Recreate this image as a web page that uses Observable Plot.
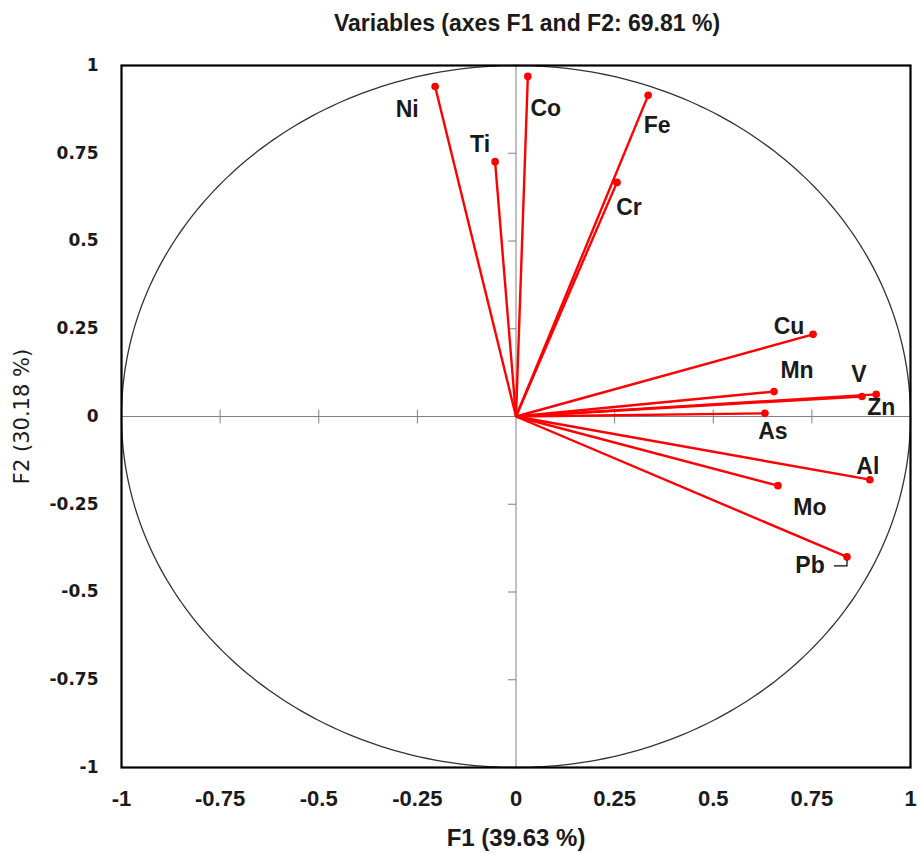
<!DOCTYPE html>
<html><head><meta charset="utf-8">
<script src="https://cdn.jsdelivr.net/npm/d3@7"></script>
<script src="https://cdn.jsdelivr.net/npm/@observablehq/plot@0.6"></script>
<style>body{margin:0;background:#fff}</style>
</head><body><div id="chart"></div>
<script>
// ---- data ----
const variables = ["Ni","Co","Ti","Fe","Cr","Cu","Mn","V","Zn","As","Al","Mo","Pb"];
const f1 = [-0.205, 0.030, -0.053, 0.335, 0.256, 0.753, 0.654, 0.877, 0.913, 0.631, 0.897, 0.664, 0.839];
const f2 = [0.940, 0.969, 0.726, 0.915, 0.667, 0.234, 0.071, 0.057, 0.063, 0.009, -0.180, -0.197, -0.400];
const tickValues = [-1, -0.75, -0.5, -0.25, 0, 0.25, 0.5, 0.75, 1];
const innerTicks = [-0.75, -0.5, -0.25, 0.25, 0.5, 0.75];
const titleText = "Variables (axes F1 and F2: 69.81 %)";
const xLabel = "F1 (39.63 %)";
const yLabel = "F2 (30.18 %)";

// ---- layout (label offsets in px) ----
const labelOffsets = {
  Ni: [-28, 23], Co: [18, 32], Ti: [-15, -17], Fe: [9, 30], Cr: [12, 25],
  Cu: [-24, -8], Mn: [23, -21], V: [-3, -22], Zn: [5, 13], As: [8, 18],
  Al: [-2, -13], Mo: [32, 22], Pb: [-37, 9]
};

const loadings = variables.map((v, i) => ({name: v, x: f1[i], y: f2[i]}));
const circle = d3.range(0, 361, 1).map(a => ({x: Math.cos(a * Math.PI / 180), y: Math.sin(a * Math.PI / 180)}));

const vTick = {draw(ctx, size) { ctx.moveTo(0, -7); ctx.lineTo(0, 7); }};
const hTick = {draw(ctx, size) { ctx.moveTo(-8, 0); ctx.lineTo(0, 0); }};
const pbLeader = {draw(ctx, size) { ctx.moveTo(-13, 9); ctx.lineTo(0, 9); ctx.lineTo(0, 3); }};

const sansBold = "Liberation Sans, Arial, sans-serif";
const fmt = d => String(d);

const chart = Plot.plot({
  width: 919,
  height: 853,
  marginLeft: 121,
  marginRight: 9,
  marginTop: 65,
  marginBottom: 86,
  x: {domain: [-1, 1], axis: null},
  y: {domain: [-1, 1], axis: null},
  style: {fontFamily: sansBold, background: "#fff"},
  marks: [
    Plot.ruleX([0], {stroke: "#808080", strokeWidth: 1}),
    Plot.ruleY([0], {stroke: "#808080", strokeWidth: 1}),
    Plot.dot(innerTicks, {x: d => d, y: 0, symbol: vTick, stroke: "#808080", strokeWidth: 1, r: 7}),
    Plot.dot(innerTicks, {x: 0, y: d => d, symbol: hTick, stroke: "#808080", strokeWidth: 1, r: 7}),
    Plot.line(circle, {x: "x", y: "y", stroke: "#333", strokeWidth: 1.3}),
    Plot.link(loadings, {x1: 0, y1: 0, x2: "x", y2: "y", stroke: "#ff0000", strokeWidth: 2.4}),
    Plot.dot(loadings, {x: "x", y: "y", r: 3.8, fill: "#ff0000"}),
    Plot.dot(loadings.filter(d => d.name === "Pb"), {x: "x", y: "y", symbol: pbLeader, stroke: "#000", strokeWidth: 1.2, fill: "none", r: 5}),
    ...loadings.map(d => Plot.text([d], {
      x: "x", y: "y", text: "name",
      dx: labelOffsets[d.name][0], dy: labelOffsets[d.name][1],
      fontSize: 23, fontWeight: "bold", fill: "#1a1a1a", fontFamily: sansBold
    })),
    Plot.frame({stroke: "#000", strokeWidth: 2.2}),
    // x tick labels
    Plot.text(tickValues, {
      x: d => d, frameAnchor: "bottom", lineAnchor: "middle", dy: 31, text: fmt,
      fontSize: 22, fontWeight: "bold", fill: "#1a1a1a", fontFamily: sansBold
    }),
    // y tick labels
    Plot.text(tickValues, {
      y: d => d, frameAnchor: "left", textAnchor: "end", lineAnchor: "middle", dx: -23, text: fmt,
      fontSize: 17, fontWeight: "bold", fill: "#1a1a1a", fontFamily: "DejaVu Sans, Verdana, sans-serif"
    }),
    Plot.text([titleText], {frameAnchor: "top", lineAnchor: "middle", dy: -42, dx: 11, text: d => d,
      fontSize: 23, fontWeight: "bold", fill: "#1a1a1a", fontFamily: sansBold}),
    Plot.text([xLabel], {frameAnchor: "bottom", lineAnchor: "middle", dy: 71, text: d => d,
      fontSize: 24, fontWeight: "bold", fill: "#1a1a1a", fontFamily: sansBold}),
    Plot.text([yLabel], {frameAnchor: "left", textAnchor: "middle", lineAnchor: "middle", dx: -99, rotate: -90, text: d => d,
      fontSize: 21, fill: "#1a1a1a", fontFamily: "DejaVu Sans, Verdana, sans-serif"})
  ]
});
document.getElementById("chart").appendChild(chart);
</script>
</body></html>
